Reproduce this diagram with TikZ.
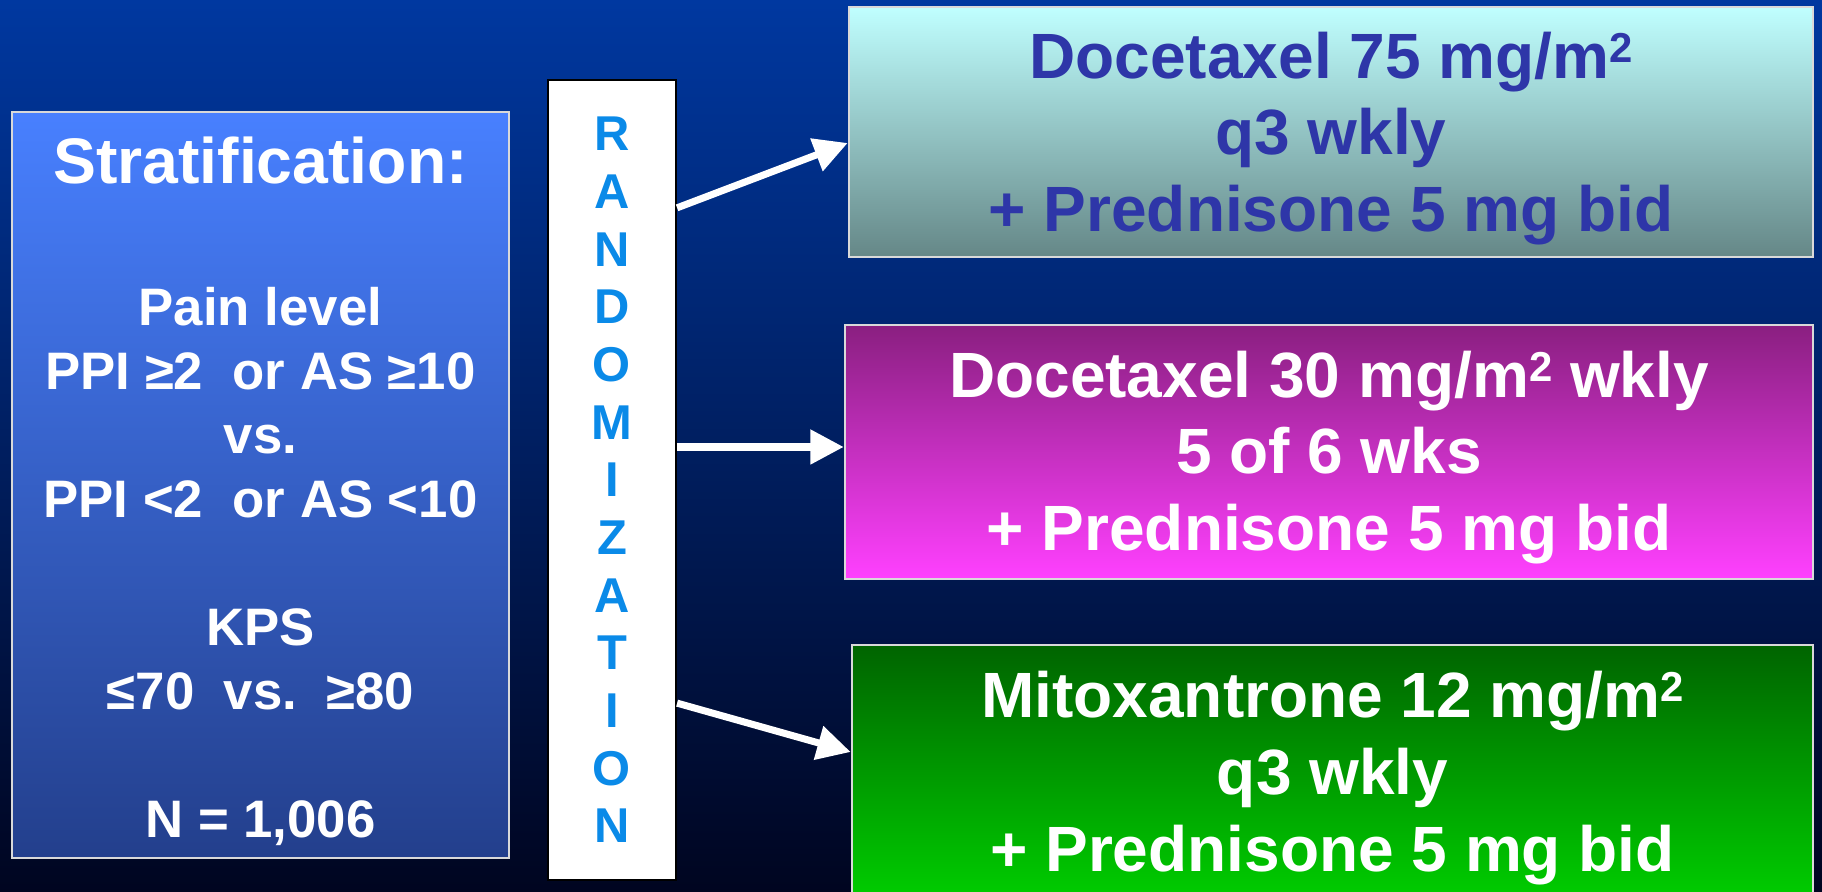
\documentclass[tikz,border=0pt]{standalone}
\usepackage{fontspec}
\setmainfont{Liberation Sans}
\usetikzlibrary{arrows.meta}
\definecolor{bgtop}{RGB}{0,56,160}
\definecolor{bgmid}{RGB}{0,34,118}
\definecolor{bgbot}{RGB}{0,5,32}
\definecolor{strattop}{RGB}{72,128,255}
\definecolor{stratbot}{RGB}{35,63,140}
\definecolor{randblue}{RGB}{10,138,232}
\definecolor{cyantop}{RGB}{192,255,255}
\definecolor{cyanbot}{RGB}{101,135,135}
\definecolor{cyantext}{RGB}{46,54,168}
\definecolor{magtop}{RGB}{138,31,128}
\definecolor{magbot}{RGB}{255,64,255}
\definecolor{greentop}{RGB}{0,100,0}
\definecolor{greenbot}{RGB}{0,210,0}
\newcommand\msq{m\raisebox{4.5pt}{\fontsize{11.9}{11.9}\selectfont 2}}
\begin{document}
\begin{tikzpicture}[x=0.01cm,y=-0.01cm,
  armbox/.style={draw=white!85!black,line width=0.6pt,align=center,inner sep=0pt,
    font=\fontsize{18.2}{21.8}\selectfont\bfseries},
  arm/.style={white,line width=2pt,-{Triangle[length=9.5pt,width=9.5pt]}}]
\useasboundingbox (0,0) rectangle (1822,892);
\shade[top color=bgtop,middle color=bgmid,bottom color=bgbot] (0,0) rectangle (1822,892);
% stratification
\node[draw=white!85!black,line width=0.6pt,top color=strattop,bottom color=stratbot,
  minimum width=4.97cm,minimum height=7.46cm,inner sep=0pt,align=center,text=white,
  font=\fontsize{15}{18.2}\selectfont\bfseries] (strat) at (260.5,485)
  {\rule{0pt}{16.8pt}{\fontsize{18.3}{18.3}\selectfont Stratification:}\\[22.2pt]
   Pain level\\
   PPI ≥2\ \ or AS ≥10\\
   vs.\\
   PPI <2\ \ or AS <10\\[18.2pt]
   KPS\\
   ≤70\ \ vs.\ \ ≥80\\[18.2pt]
   N = 1,006};
% randomization
\node[draw=black,line width=0.6pt,fill=white,minimum width=1.28cm,minimum height=8cm,
  inner sep=0pt,align=center,text=randblue,
  font=\fontsize{13.9}{16.4}\selectfont\bfseries] (rand) at (612,480)
  {R\\A\\N\\D\\O\\M\\I\\Z\\A\\T\\I\\O\\N};
% arms
\node[armbox,top color=cyantop,bottom color=cyanbot,text=cyantext,
  minimum width=9.64cm,minimum height=2.5cm] (docq3) at (1331,132)
  {\rule{0pt}{16.9pt}Docetaxel 75 mg/\msq\\q3 wkly\\+ Prednisone 5 mg bid};
\node[armbox,top color=magtop,bottom color=magbot,text=white,
  minimum width=9.68cm,minimum height=2.54cm] (docwk) at (1329,452)
  {\rule{0pt}{16.2pt}Docetaxel 30 mg/\msq{} wkly\\5 of 6 wks\\+ Prednisone 5 mg bid};
\node[armbox,top color=greentop,bottom color=greenbot,text=white,
  minimum width=9.61cm,minimum height=2.66cm] (mitox) at (1332.5,778)
  {Mitoxantrone 12 mg/\msq\\q3 wkly\\+ Prednisone 5 mg bid};
\draw[arm] ([yshift=2.72cm]rand.east) -- ([yshift=-0.11cm]docq3.west);
\draw[arm] ([yshift=0.05cm]rand.east |- docwk.west) -- ([yshift=0.05cm]docwk.west);
\draw[arm] ([yshift=-2.23cm]rand.east) -- ([yshift=0.26cm]mitox.west);
\end{tikzpicture}
\end{document}
